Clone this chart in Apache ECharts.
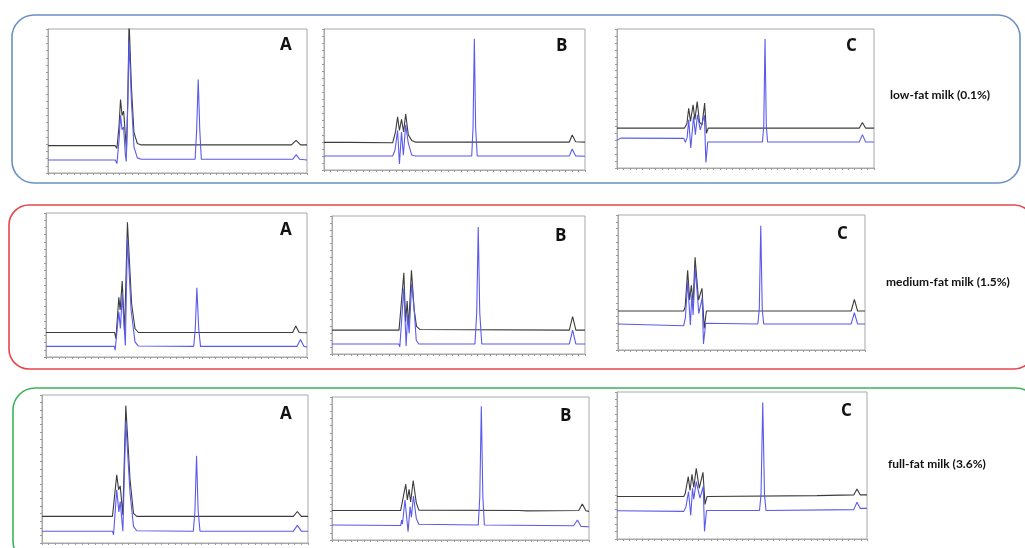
<!DOCTYPE html>
<html><head><meta charset="utf-8">
<script src="https://cdn.jsdelivr.net/npm/echarts@6/dist/echarts.min.js"></script>
<style>html,body{margin:0;padding:0;background:#fff}#c{width:1025px;height:548px}</style>
</head><body><div id="c"></div>
<script>
// Row / panel labels
const rowLabels = ['low-fat milk (0.1%)', 'medium-fat milk (1.5%)', 'full-fat milk (3.6%)'];
const panelLetters = ['A', 'B', 'C'];

// Traces: x = % of run time, y = relative response (%)
const lowA_black = [[0,19],[26,19],[26.6,17],[27.4,32],[28,51],[28.6,40],[29.2,43],[29.8,28],[30.3,16],[30.8,50],[31.3,106],[32.2,60],[33.2,28],[34.5,20.5],[36,19.5],[94,19.5],[95.8,22.6],[97.5,19.5],[100,19.5]];
const lowA_blue = [[0,9],[26,9],[26.6,6.5],[27.4,22],[28,40],[28.6,30],[29.2,32],[29.8,14],[30.2,8],[30.7,40],[31.3,92],[32.2,50],[33.2,18],[34.5,10.5],[36,9.5],[56.8,9.5],[57.4,30],[58,65],[58.6,30],[59.2,9.5],[94.5,9.5],[95.8,12.7],[97.2,9.5],[100,9]];
const lowB_black = [[0,19.6],[8,19.6],[8.7,20.5],[9.4,19.6],[26.3,19.3],[26.6,18.4],[27.4,27],[28.2,37.8],[28.9,28],[29.7,36],[30.5,27],[31.3,39.7],[32.3,25],[33.6,21],[35,19.8],[94,19.8],[95.1,24.8],[96.4,20],[100,19.8]];
const lowB_blue = [[0,9.9],[26.3,9.9],[27.2,14],[28.2,28],[28.9,4.3],[29.7,27],[30.4,10.5],[31.3,32],[32.3,19],[33.6,10.6],[35,9.9],[56.6,9.9],[57.1,30],[57.6,93],[58.1,30],[58.7,9.9],[94,10],[95.1,14.9],[96.4,10],[100,9.8]];
const lowC_black = [[0,28.7],[8,28.7],[8.6,29.7],[9.3,28.7],[26.3,28.7],[27.2,32],[27.9,43],[28.6,33.5],[29.6,45.5],[30.3,34.7],[31.2,47.8],[32.1,33],[33.1,31],[34.1,46.7],[34.8,25],[35.5,28.7],[94.3,28.7],[95.5,32.8],[96.7,28.7],[100,28.7]];
const lowC_blue = [[0,20],[0.6,19],[1.5,21.5],[26,21.3],[26.6,18.4],[27.3,22],[27.9,34.7],[28.7,14.4],[29.8,37],[30.5,24],[31.3,38.3],[32.4,27.5],[34,38],[34.6,4],[35.3,18.7],[56.6,18.7],[57.1,30],[57.6,92.8],[58.1,30],[58.6,18.7],[94.3,18.8],[95.5,24],[96.7,18.8],[100,18.7]];
const medA_black = [[0,17],[26.3,17],[26.8,12.8],[27.9,41.4],[28.4,32.6],[29.2,52.8],[30.1,17.4],[31.2,93.5],[32.8,37],[34.1,19.8],[35.4,17],[94.5,17],[95.7,21.6],[97,17],[100,16.8]];
const medA_blue = [[0,7.4],[26.2,7.4],[26.5,4.7],[27.9,31.4],[28.5,19.8],[29.2,43],[30.4,8],[31.2,82.6],[32.6,32.6],[34.1,10.5],[35.4,7.6],[56.6,7.4],[57.2,20],[57.8,48.1],[58.5,20],[59.2,7.4],[96.2,7.4],[97.5,12.1],[98.8,7.4],[100,7]];
const medB_black = [[0,17.3],[26.5,17.3],[26.8,16.5],[28.4,58.8],[29.1,23.4],[29.7,38.3],[30.3,20],[31.4,60.7],[32.5,31.8],[33.4,20],[34.7,17.8],[93.8,17.3],[95.1,27],[96.4,17.3],[100,17.3]];
const medB_blue = [[0,7.2],[26.4,7.2],[26.8,5.3],[28.4,47.5],[29.3,5.8],[29.9,28.2],[30.5,15],[31.5,51],[32.5,31.8],[33.3,10],[34.3,7.2],[56.5,7.2],[57.2,30],[57.8,92],[58.4,30],[59.2,7.2],[93.8,7.2],[95.1,17.3],[96.4,7.2],[100,7.2]];
const medC_black = [[0,28.9],[26.6,28.9],[27.2,32],[28.2,59],[29,37],[29.7,48],[30.4,35],[31.2,68.6],[32.6,37],[34,45.7],[34.9,16],[35.8,28.9],[94.4,28.9],[95.7,37.5],[97,28.9],[100,28.9]];
const medC_blue = [[0,19.3],[26.6,18],[27.3,24],[28.2,50.6],[29.3,18.5],[29.9,40.7],[30.4,26],[31.3,60.5],[32.7,27],[34.1,38.8],[34.6,4.4],[35.5,19.8],[56.6,19.3],[57.2,30],[57.8,92],[58.4,30],[59,19.3],[94.4,19.3],[95.7,27.6],[97,19.3],[100,19.3]];
const fullA_black = [[0,18],[26.5,18],[26.9,16.9],[28.1,46],[28.8,36],[29.4,38.6],[30.4,19],[31.5,92.8],[33.1,42.7],[34.4,20],[35.6,18],[94.5,18],[96,21.3],[97.5,18],[100,18]];
const fullA_blue = [[0,7.9],[26.5,7.9],[26.9,5.6],[28.1,36],[28.9,21],[29.4,28],[30.4,7.9],[31.5,82],[33.1,33.7],[34.4,11.2],[35.6,8.3],[56.9,7.9],[57.5,22],[58.1,58.9],[58.7,22],[59.4,7.9],[94.5,8],[96,11.9],[97.5,8],[100,7.9]];
const fullB_black = [[0,20.6],[26.7,20.6],[27,19.9],[28.7,39],[29.3,28],[30,35.5],[30.6,26.6],[31.6,41.6],[32.8,26],[33.8,20.9],[72.8,20.6],[73.5,19.8],[76,20.4],[96,20.6],[97.4,25.2],[98.8,20.4],[100,20]];
const fullB_blue = [[0,10.5],[26.7,10.1],[27.1,14],[27.4,11],[28.4,28],[29.6,5.8],[30.4,23.4],[30.9,16],[31.7,30.8],[32.8,15],[33.8,11],[56.9,10.5],[57.5,30],[58.1,93.5],[58.7,30],[59.3,10.5],[94,10],[95.5,14],[96.9,9.5],[100,9.3]];
const fullC_black = [[0,28.9],[26.7,28.9],[27.3,31],[28.5,42.4],[29.2,33],[30,44],[30.7,35],[31.7,48],[32.9,34.5],[34.4,45.4],[35.2,23.5],[36,28.9],[80,29.5],[94.7,30],[96,34],[97.3,30],[100,30]];
const fullC_blue = [[0,19.2],[26.7,18.8],[27.6,22],[28.6,32.3],[29.5,16],[30.2,34.5],[30.7,27],[31.7,39],[33.2,27.8],[34.5,35.7],[35,5.2],[35.8,19.4],[57,19.4],[57.6,30],[58.3,92.8],[59,30],[59.6,19.4],[94.7,20],[96,25],[97.3,20.8],[100,20.8]];

const blackTraces = [lowA_black, lowB_black, lowC_black, medA_black, medB_black, medC_black, fullA_black, fullB_black, fullC_black];
const blueTraces = [lowA_blue, lowB_blue, lowC_blue, medA_blue, medB_blue, medC_blue, fullA_blue, fullB_blue, fullC_blue];

// layout
const grids = [
  [48,29,259,144],[324,29,261,141],[617,29,257,139],
  [46,213,261,144],[332,216,253,138],[618,215,247,135],
  [42,395,266,148],[332,397,257,143],[617,392,250,147]
];
const letterPos = [[287,48],[563,49],[853,49],[287,233],[562,239],[844,237],[287,417],[567,419],[848,414]];
const rowLabelPos = [[890,97],[886,284],[888,466]];

const chart = echarts.init(document.getElementById('c'), null, {renderer:'canvas'});
const gridOpt = [], xAxes = [], yAxes = [], series = [], graphic = [];
grids.forEach((g,i)=>{
  gridOpt.push({left:g[0],top:g[1],width:g[2],height:g[3],show:true,borderColor:'#a8a8a8',borderWidth:1,backgroundColor:'#fff'});
  xAxes.push({type:'value',gridIndex:i,min:0,max:100,interval:2.5,
    axisLine:{show:true,lineStyle:{color:'#a8a8a8'}},
    axisTick:{show:true,length:2,lineStyle:{color:'#999'}},
    axisLabel:{show:false},splitLine:{show:false}});
  yAxes.push({type:'value',gridIndex:i,min:0,max:100,interval:5,
    axisLine:{show:true,lineStyle:{color:'#a8a8a8'}},
    axisTick:{show:true,length:2,lineStyle:{color:'#999'}},
    axisLabel:{show:false},splitLine:{show:false}});
  series.push({type:'line',xAxisIndex:i,yAxisIndex:i,data:blackTraces[i],showSymbol:false,symbol:'none',
    lineStyle:{color:'#3c3c3c',width:1.1},clip:true,animation:false,z:2});
  series.push({type:'line',xAxisIndex:i,yAxisIndex:i,data:blueTraces[i],showSymbol:false,symbol:'none',
    lineStyle:{color:'#5a5aee',width:1.1},clip:true,animation:false,z:3});
  graphic.push({type:'text',left:letterPos[i][0]-7,top:letterPos[i][1]-11,
    style:{text:panelLetters[i%3],font:'bold 17px "Open Sans", sans-serif',fill:'#111'}});
});
// rounded frames
graphic.push({type:'rect',shape:{x:12,y:15,width:1008,height:168,r:22},style:{fill:'none',stroke:'#6a90c4',lineWidth:1.6},z:-1});
graphic.push({type:'rect',shape:{x:9,y:205,width:1025,height:164,r:20},style:{fill:'none',stroke:'#e8454a',lineWidth:1.6},z:-1});
graphic.push({type:'rect',shape:{x:13,y:388,width:1025,height:175,r:22},style:{fill:'none',stroke:'#3db35c',lineWidth:1.6},z:-1});
rowLabels.forEach((t,i)=>{
  graphic.push({type:'text',left:rowLabelPos[i][0],top:rowLabelPos[i][1]-8,
    style:{text:t,font:'bold 12px Lato, "Open Sans", sans-serif',fill:'#111'}});
});

chart.setOption({animation:false,grid:gridOpt,xAxis:xAxes,yAxis:yAxes,series:series,graphic:graphic});
</script></body></html>
